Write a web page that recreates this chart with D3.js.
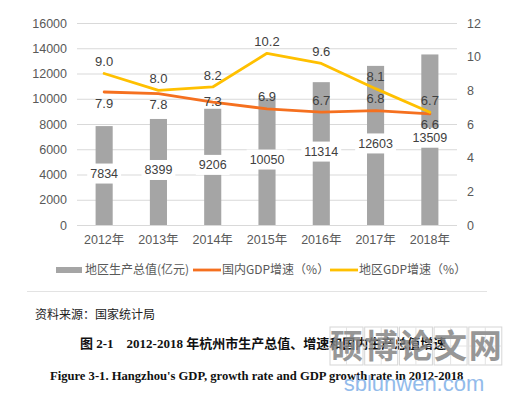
<!DOCTYPE html>
<html>
<head>
<meta charset="utf-8">
<script src="https://cdn.jsdelivr.net/npm/d3@7"></script>
<style>
  body { margin: 0; background: #fff; }
  svg { display: block; }
  .axis text { fill: #595959; font-size: 12.5px; font-family: "Liberation Sans", "Noto Sans CJK SC", sans-serif; }
  .axis .domain { display: none; }
</style>
</head>
<body>
<div id="chart"></div>
<script>
// values
const years = ['2012年', '2013年', '2014年', '2015年', '2016年', '2017年', '2018年'];
const gdp = [7834, 8399, 9206, 10050, 11314, 12603, 13509];
const nationalGrowth = [7.9, 7.8, 7.3, 6.9, 6.7, 6.8, 6.6];
const regionalGrowth = [9.0, 8.0, 8.2, 10.2, 9.6, 8.1, 6.7];
const leftTicks = [0, 2000, 4000, 6000, 8000, 10000, 12000, 14000, 16000];
const rightTicks = [0, 2, 4, 6, 8, 10, 12];
const legendNames = ['地区生产总值(亿元)', '国内GDP增速（%）', '地区GDP增速（%）'];

// where each national label sits relative to its point
const nationalLabelPos = ['below', 'below', 'center', 'above', 'above', 'above', 'below'];

const W = 518, H = 399;
const plot = { left: 77, right: 457, top: 23, bottom: 225 };
const font = '"Liberation Sans", "Noto Sans CJK SC", sans-serif';
const cjk = '"Noto Sans CJK SC", sans-serif';

const svg = d3.select('#chart').append('svg')
	.attr('width', W)
	.attr('height', H);

let x = d3.scaleBand()
	.domain(years)
	.range([plot.left, plot.right])
	.paddingInner(0.685)
	.paddingOuter(0.3425);

let yL = d3.scaleLinear().domain([0, 16000]).range([plot.bottom, plot.top]);
let yR = d3.scaleLinear().domain([0, 12]).range([plot.bottom, plot.top]);

let cx = d => x(d) + x.bandwidth() / 2;

// gridlines + left axis
let gL = svg.append('g')
	.attr('class', 'axis')
	.attr('transform', 'translate(' + plot.left + ',0)')
	.call(d3.axisLeft(yL).tickValues(leftTicks).tickSize(-(plot.right - plot.left)).tickPadding(10).tickFormat(d3.format('d')));
gL.selectAll('line').attr('stroke', '#d9d9d9');

svg.append('g')
	.attr('class', 'axis')
	.attr('transform', 'translate(' + plot.right + ',0)')
	.call(d3.axisRight(yR).tickValues(rightTicks).tickSize(0).tickPadding(10));

svg.append('g')
	.attr('class', 'axis')
	.attr('transform', 'translate(0,' + plot.bottom + ')')
	.call(d3.axisBottom(x).tickSize(0).tickPadding(10));

// bars
svg.selectAll('.bar')
	.data(gdp)
	.enter()
	.append('rect')
	.attr('class', 'bar')
	.attr('x', (d, i) => x(years[i]))
	.attr('width', x.bandwidth())
	.attr('y', d => yL(d))
	.attr('height', d => plot.bottom - yL(d))
	.attr('fill', '#a5a5a5');

// bar labels on white boxes, centred in the bar
let barLab = svg.selectAll('.bar-label')
	.data(gdp)
	.enter()
	.append('g')
	.attr('class', 'bar-label')
	.attr('transform', (d, i) => 'translate(' + cx(years[i]) + ',' + (yL(d / 2) - 2) + ')');

barLab.append('rect')
	.attr('fill', '#fff');

barLab.append('text')
	.attr('text-anchor', 'middle')
	.attr('dy', '0.35em')
	.attr('font-family', font)
	.attr('font-size', 12.5)
	.attr('fill', '#404040')
	.text(d => d);

barLab.each(function() {
	let g = d3.select(this);
	let w = g.select('text').node().getComputedTextLength() + 6;
	g.select('rect').attr('x', -w / 2).attr('y', -10).attr('width', w).attr('height', 20);
});

// lines
let line = d3.line()
	.x((d, i) => cx(years[i]))
	.y(d => yR(d));

svg.append('path')
	.datum(nationalGrowth)
	.attr('fill', 'none')
	.attr('stroke', '#f5701f')
	.attr('stroke-width', 2.8)
	.attr('stroke-linejoin', 'round')
	.attr('stroke-linecap', 'round')
	.attr('d', line);

svg.append('path')
	.datum(regionalGrowth)
	.attr('fill', 'none')
	.attr('stroke', '#ffc000')
	.attr('stroke-width', 2.8)
	.attr('stroke-linejoin', 'round')
	.attr('stroke-linecap', 'round')
	.attr('d', line);

let offset = { above: -12, below: 11, center: -1 };

svg.selectAll('.nat-label')
	.data(nationalGrowth)
	.enter()
	.append('text')
	.attr('class', 'nat-label')
	.attr('x', (d, i) => cx(years[i]))
	.attr('y', (d, i) => yR(d) + offset[nationalLabelPos[i]])
	.attr('dy', '0.35em')
	.attr('text-anchor', 'middle')
	.attr('font-family', font)
	.attr('font-size', 13)
	.attr('fill', '#404040')
	.text(d => d.toFixed(1));

svg.selectAll('.reg-label')
	.data(regionalGrowth)
	.enter()
	.append('text')
	.attr('class', 'reg-label')
	.attr('x', (d, i) => cx(years[i]))
	.attr('y', d => yR(d) + offset.above)
	.attr('dy', '0.35em')
	.attr('text-anchor', 'middle')
	.attr('font-family', font)
	.attr('font-size', 13)
	.attr('fill', '#404040')
	.text(d => d.toFixed(1));

// legend
let legend = svg.append('g').attr('transform', 'translate(0,270)');
let legendItems = [
	{ x: 56, sym: 'rect', color: '#a5a5a5' },
	{ x: 193, sym: 'line', color: '#f5701f' },
	{ x: 330, sym: 'line', color: '#ffc000' }
];
legendItems.forEach(function(it, i) {
	if (it.sym == 'rect') {
		legend.append('rect').attr('x', it.x).attr('y', -3).attr('width', 26).attr('height', 6).attr('fill', it.color);
	} else {
		legend.append('line').attr('x1', it.x).attr('x2', it.x + 28).attr('y1', 0).attr('y2', 0)
			.attr('stroke', it.color).attr('stroke-width', 2.8);
	}
	legend.append('text')
		.attr('x', it.x + 29)
		.attr('dy', '0.35em')
		.attr('font-family', cjk)
		.attr('font-size', 12)
		.attr('fill', '#595959')
		.text(legendNames[i]);
});

// chart frame bottom edge
svg.append('line')
	.attr('x1', 27).attr('x2', 487)
	.attr('y1', 291.5).attr('y2', 291.5)
	.attr('stroke', '#e3e3e3');

// captions
svg.append('text')
	.attr('x', 35).attr('y', 319)
	.attr('font-family', cjk)
	.attr('font-size', 12)
	.attr('fill', '#222')
	.text('资料来源：国家统计局');

svg.append('text')
	.attr('x', 80).attr('y', 348)
	.attr('font-family', '"Liberation Serif", "Noto Sans CJK SC", serif')
	.attr('font-weight', 'bold')
	.attr('font-size', 13)
	.attr('fill', '#111')
	.attr('xml:space', 'preserve')
	.text('图 2-1    2012-2018 年杭州市生产总值、增速和国内生产总值增速');

svg.append('text')
	.attr('x', 50).attr('y', 380)
	.attr('font-family', '"Liberation Serif", serif')
	.attr('font-weight', 'bold')
	.attr('font-size', 12.6)
	.attr('fill', '#111')
	.text("Figure 3-1. Hangzhou's GDP, growth rate and GDP growth rate in 2012-2018");

// site watermark
let wm = svg.append('g').attr('opacity', 0.85);
let wmChars = ['硕', '博', '论', '文', '网'];
wmChars.forEach(function(c, i) {
	let bx = 330 + i * 34.7, by = 327, bw = 33, bh = 38;
	wm.append('rect').attr('x', bx).attr('y', by).attr('width', bw).attr('height', bh)
		.attr('fill', 'none').attr('stroke', '#cfcfcf').attr('stroke-width', 1);
	wm.append('line').attr('x1', bx + bw / 2).attr('x2', bx + bw / 2).attr('y1', by).attr('y2', by + bh)
		.attr('stroke', '#e0e0e0');
	wm.append('line').attr('x1', bx).attr('x2', bx + bw).attr('y1', by + bh / 2).attr('y2', by + bh / 2)
		.attr('stroke', '#e0e0e0');
	wm.append('text')
		.attr('x', bx + bw / 2).attr('y', by + bh / 2)
		.attr('dy', '0.36em')
		.attr('text-anchor', 'middle')
		.attr('font-family', cjk)
		.attr('font-weight', 'bold')
		.attr('font-size', 33)
		.attr('fill', '#858585')
		.text(c);
});
wm.append('text')
	.attr('x', 414).attr('y', 391)
	.attr('text-anchor', 'middle')
	.attr('font-family', '"Liberation Sans", sans-serif')
	.attr('font-size', 22)
	.attr('fill', '#7fb0e8')
	.text('sblunwen.com');
</script>
</body>
</html>
